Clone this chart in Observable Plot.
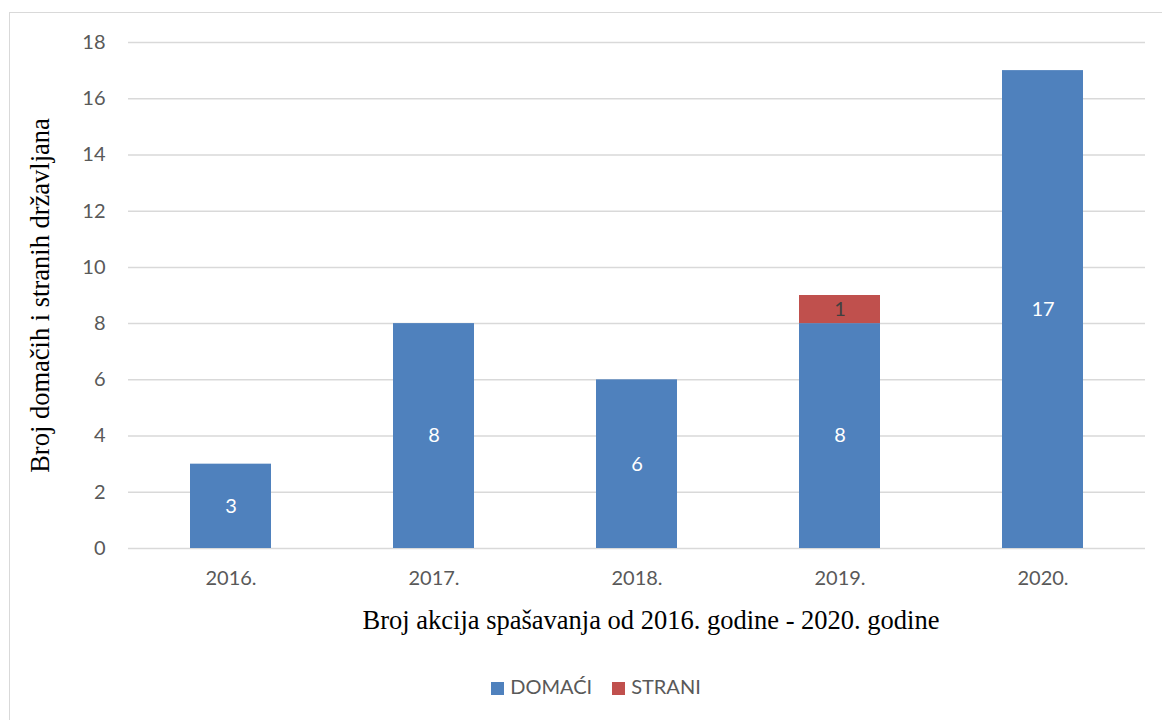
<!DOCTYPE html>
<html>
<head>
<meta charset="utf-8">
<script src="https://cdn.jsdelivr.net/npm/d3@7"></script>
<script src="https://cdn.jsdelivr.net/npm/@observablehq/plot@0.6"></script>
<style>
  html, body { margin: 0; padding: 0; background: #fff; }
  #frame { position: absolute; left: 9px; top: 12px; width: 1170px; height: 730px; border: 1px solid #d9d9d9; box-sizing: border-box; }
  #chart { position: absolute; left: 0; top: 0; }
  #legend { position: absolute; left: 0; top: 674px; width: 1192px; text-align: center; font-family: Lato, sans-serif; font-size: 20px; color: #595959; }
  .sw { display: inline-block; width: 13px; height: 13px; margin-right: 6px; vertical-align: -1px; }
  .item { display: inline-block; margin: 0 10px; }
</style>
</head>
<body>
<div id="frame"></div>
<div id="chart"></div>
<div id="legend"></div>
<script>
const years = ["2016.", "2017.", "2018.", "2019.", "2020."];
const domaci = [3, 8, 6, 8, 17];
const strani = [0, 0, 0, 1, 0];
const seriesNames = ["DOMAĆI", "STRANI"];
const seriesColors = ["#4f81bd", "#c0504d"];
const labelColors = ["#ffffff", "#404040"];
const yTicks = [0, 2, 4, 6, 8, 10, 12, 14, 16, 18];
const xTitle = "Broj akcija spašavanja od 2016. godine - 2020. godine";
const yTitle = "Broj domačih i stranih državljana";

const data = [];
years.forEach((yr, i) => {
  data.push({year: yr, series: seriesNames[0], value: domaci[i]});
  if (strani[i] > 0) data.push({year: yr, series: seriesNames[1], value: strani[i]});
});

const serif = "'Liberation Serif', 'Times New Roman', serif";

const plot = Plot.plot({
  width: 1162,
  height: 660,
  marginTop: 42,
  marginLeft: 128,
  marginRight: 17,
  marginBottom: 112,
  style: {fontFamily: "Lato, sans-serif", fontSize: "20px", color: "#595959", background: "transparent"},
  x: {domain: years, paddingInner: 0.6, paddingOuter: 0.3, label: null},
  y: {domain: [0, 18], label: null},
  color: {domain: seriesNames, range: seriesColors},
  marks: [
    Plot.gridY(yTicks, {stroke: "#d9d9d9", strokeOpacity: 1, strokeWidth: 1.5}),
    Plot.axisY(yTicks, {tickSize: 0, tickPadding: 23, label: null, fill: "#595959"}),
    Plot.axisX({tickSize: 0, tickPadding: 22, label: null, fill: "#595959"}),
    Plot.barY(data, Plot.stackY({x: "year", y: "value", fill: "series", order: seriesNames})),
    Plot.text(data, Plot.stackY({x: "year", y: "value", text: "value", order: seriesNames,
      fill: d => labelColors[seriesNames.indexOf(d.series)], fontSize: 20})),
    Plot.text([xTitle], {frameAnchor: "bottom", textAnchor: "middle", lineAnchor: "middle", dy: 72, dx: 14, fontFamily: serif, fontSize: 26.5, fill: "#000"}),
    Plot.text([yTitle], {frameAnchor: "left", textAnchor: "middle", lineAnchor: "middle", dx: -88, rotate: -90, fontFamily: serif, fontSize: 26.5, fill: "#000"})
  ]
});
document.getElementById("chart").appendChild(plot);

const legend = document.getElementById("legend");
seriesNames.forEach((name, i) => {
  const item = document.createElement("span");
  item.className = "item";
  const sw = document.createElement("span");
  sw.className = "sw";
  sw.style.background = seriesColors[i];
  item.appendChild(sw);
  item.appendChild(document.createTextNode(name));
  legend.appendChild(item);
});
</script>
</body>
</html>
